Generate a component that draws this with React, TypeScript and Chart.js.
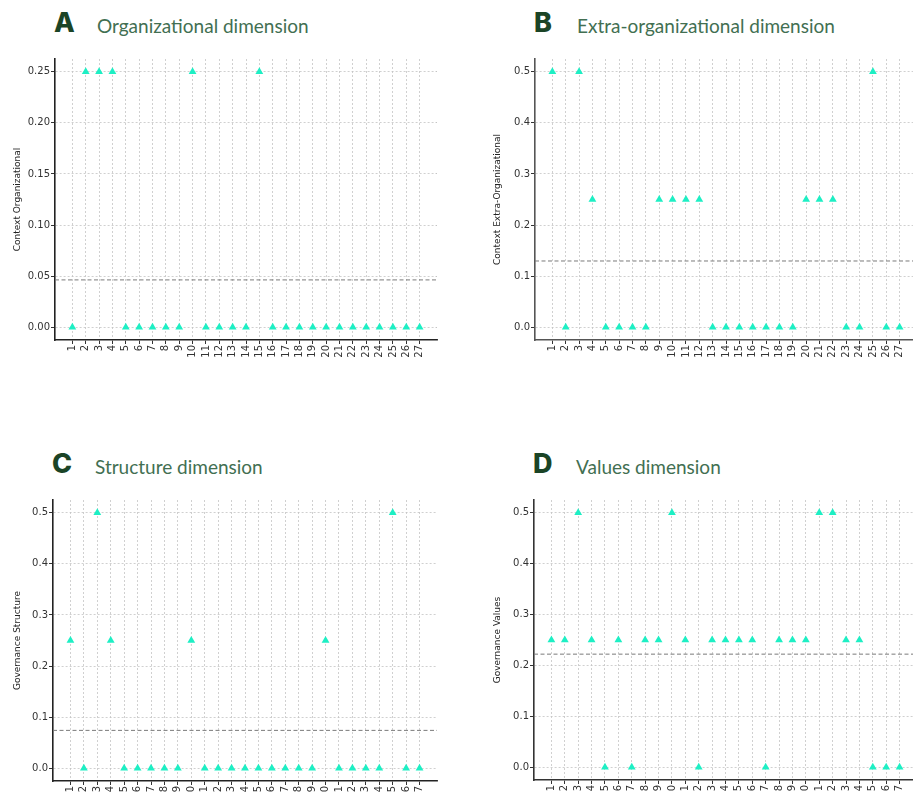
import React, { useEffect, useRef } from "react";
import { Chart, registerables } from "chart.js";

Chart.register(...registerables);

const categories = ["1","2","3","4","5","6","7","8","9","10","11","12","13","14","15","16","17","18","19","20","21","22","23","24","25","26","27"];

const organizational = [0, 0.25, 0.25, 0.25, 0, 0, 0, 0, 0, 0.25, 0, 0, 0, 0, 0.25, 0, 0, 0, 0, 0, 0, 0, 0, 0, 0, 0, 0];
const extraOrganizational = [0.5, 0, 0.5, 0.25, 0, 0, 0, 0, 0.25, 0.25, 0.25, 0.25, 0, 0, 0, 0, 0, 0, 0, 0.25, 0.25, 0.25, 0, 0, 0.5, 0, 0];
const structure = [0.25, 0, 0.5, 0.25, 0, 0, 0, 0, 0, 0.25, 0, 0, 0, 0, 0, 0, 0, 0, 0, 0.25, 0, 0, 0, 0, 0.5, 0, 0];
const valuesDim = [0.25, 0.25, 0.5, 0.25, 0, 0.25, 0, 0.25, 0.25, 0.5, 0.25, 0, 0.25, 0.25, 0.25, 0.25, 0, 0.25, 0.25, 0.25, 0.5, 0.5, 0.25, 0.25, 0, 0, 0];

const yTicksQuarter = [0, 0.05, 0.1, 0.15, 0.2, 0.25];
const yTicksHalf = [0, 0.1, 0.2, 0.3, 0.4, 0.5];

const MARKER = "#1DEFC4";

type PanelProps = {
  letter: string;
  title: string;
  yLabel: string;
  data: number[];
  yTicks: number[];
  decimals: number;
  left: number;
  top: number;
  axisX: number;
  chartTop: number;
  chartBottom: number;
  chartRight: number;
  spine: string;
};

function Panel(p: PanelProps) {
  const ref = useRef<HTMLCanvasElement>(null);
  const canvasW = p.chartRight - p.left + 13;
  const canvasH = p.chartBottom - p.top + 30;
  useEffect(() => {
    if (!ref.current) return;
    const maxV = p.yTicks[p.yTicks.length - 1];
    const pad = maxV * 0.05;
    const n = p.data.length;
    const xPad = (n - 1) * 0.05;
    const mean = p.data.reduce((a, b) => a + b, 0) / n;
    const meanLine = {
      id: "meanLine",
      afterDatasetsDraw(chart: any) {
        const { ctx, chartArea, scales } = chart;
        const y = scales.y.getPixelForValue(mean);
        ctx.save();
        ctx.strokeStyle = "#7a7a7a";
        ctx.lineWidth = 1;
        ctx.setLineDash([4, 2.5]);
        ctx.beginPath();
        ctx.moveTo(chartArea.left, y);
        ctx.lineTo(chartArea.right, y);
        ctx.stroke();
        ctx.restore();
      },
    };
    const gridOpts: any = {
      color: "#c4c4c4",
      lineWidth: 0.8,
      borderDash: [2, 2],
      tickColor: "#333",
      tickLength: 4,
      tickWidth: 1,
      tickBorderDash: [],
    };
    const chart = new Chart(ref.current, {
      type: "scatter",
      data: {
        datasets: [
          {
            data: p.data.map((v, i) => ({ x: i, y: v })),
            pointStyle: "triangle",
            pointRadius: 4.5,
            pointBackgroundColor: MARKER,
            pointBorderColor: MARKER,
            pointBorderWidth: 0,
            showLine: false,
          },
        ],
      },
      options: {
        animation: false,
        responsive: false,
        maintainAspectRatio: false,
        layout: { padding: { left: 0, top: p.chartTop - p.top, right: 13, bottom: 0 } },
        plugins: { legend: { display: false }, tooltip: { enabled: false } },
        scales: {
          x: {
            type: "linear",
            min: -xPad,
            max: n - 1 + xPad,
            afterBuildTicks: (s: any) => {
              s.ticks = categories.map((_, i) => ({ value: i }));
            },
            afterFit: (s: any) => {
              s.height = canvasH - (p.chartBottom - p.top);
            },
            ticks: {
              autoSkip: false,
              minRotation: 90,
              maxRotation: 90,
              padding: 1,
              color: "#333",
              font: { family: "DejaVu Sans", size: 10 },
              callback: (v: any) => categories[Math.round(Number(v))] ?? "",
            },
            grid: gridOpts,
            border: { display: true, color: p.spine, width: 1.6, dash: [2, 2] } as any,
          },
          y: {
            type: "linear",
            min: -pad,
            max: maxV + pad,
            afterBuildTicks: (s: any) => {
              s.ticks = p.yTicks.map((v) => ({ value: v }));
            },
            afterFit: (s: any) => {
              s.width = p.axisX - p.left;
            },
            ticks: {
              padding: 1,
              color: "#333",
              font: { family: "DejaVu Sans", size: 10 },
              callback: (v: any) => Number(v).toFixed(p.decimals),
            },
            title: {
              display: true,
              text: p.yLabel,
              color: "#222",
              font: { family: "DejaVu Sans", size: 9 },
              padding: { top: 12, bottom: 0 },
            },
            grid: gridOpts,
            border: { display: true, color: p.spine, width: 1.6, dash: [2, 2] } as any,
          },
        },
      },
      plugins: [meanLine],
    });
    return () => chart.destroy();
  }, []);

  const titleTop = p.chartTop - 59;
  return (
    <>
      <div
        style={{
          position: "absolute",
          left: p.axisX - 1,
          top: titleTop + 9,
          fontFamily: "Inter",
          fontWeight: 800,
          fontSize: 27,
          lineHeight: "27px",
          color: "#1b4426",
        }}
      >
        {p.letter}
      </div>
      <div
        style={{
          position: "absolute",
          left: p.axisX + 42,
          top: titleTop + 16,
          fontFamily: "Lato",
          fontSize: 19,
          lineHeight: "19px",
          color: "#426f52",
          whiteSpace: "nowrap",
        }}
      >
        {p.title}
      </div>
      <canvas
        ref={ref}
        width={canvasW}
        height={canvasH}
        style={{ position: "absolute", left: p.left, top: p.top, width: canvasW, height: canvasH }}
      />
    </>
  );
}

export default function App() {
  return (
    <div
      style={{
        position: "fixed",
        left: 0,
        top: 0,
        width: 913,
        height: 792,
        overflow: "hidden",
        background: "#fff",
      }}
    >
      <Panel
        letter="A"
        title="Organizational dimension"
        yLabel="Context Organizational"
        data={organizational}
        yTicks={yTicksQuarter}
        decimals={2}
        left={0}
        top={40}
        axisX={55}
        chartTop={59}
        chartBottom={340}
        chartRight={437}
        spine="#222"
      />
      <Panel
        letter="B"
        title="Extra-organizational dimension"
        yLabel="Context Extra-Organizational"
        data={extraOrganizational}
        yTicks={yTicksHalf}
        decimals={1}
        left={480}
        top={40}
        axisX={535}
        chartTop={59}
        chartBottom={340}
        chartRight={917}
        spine="#555"
      />
      <Panel
        letter="C"
        title="Structure dimension"
        yLabel="Governance Structure"
        data={structure}
        yTicks={yTicksHalf}
        decimals={1}
        left={0}
        top={480}
        axisX={53}
        chartTop={500}
        chartBottom={781}
        chartRight={437}
        spine="#222"
      />
      <Panel
        letter="D"
        title="Values dimension"
        yLabel="Governance Values"
        data={valuesDim}
        yTicks={yTicksHalf}
        decimals={1}
        left={480}
        top={480}
        axisX={534}
        chartTop={500}
        chartBottom={780}
        chartRight={917}
        spine="#333"
      />
    </div>
  );
}
